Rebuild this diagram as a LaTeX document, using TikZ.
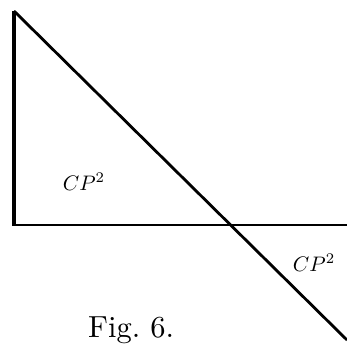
\documentclass[tikz,border=0pt]{standalone}
\usepackage{graphicx}
\begin{document}
\begin{tikzpicture}[x=1pt,y=1pt,
  edge/.style={line width=2.8pt,line cap=butt},
  lbl/.style={inner sep=0pt},
  figcaption/.style={inner sep=0pt}]
\useasboundingbox (0,0) rectangle (347,343);
\coordinate (A) at (14,332);
\coordinate (B) at (14,118);
\coordinate (H) at (347,118);
\coordinate (D) at (347,3);
\draw[edge,line width=3.4pt] (A) -- (B);
\draw[edge] (12.3,118) -- (H);
\draw[edge] (A) -- (D);
\node[lbl] (l1) at (84,161) {\scalebox{2.1}{$CP^2$}};
\node[lbl] (l2) at (314,80) {\scalebox{2.1}{$CP^2$}};
\node[figcaption,anchor=base west] (fig) at (88,6) {\scalebox{3.05}{Fig.\ 6.}};
\end{tikzpicture}
\end{document}
